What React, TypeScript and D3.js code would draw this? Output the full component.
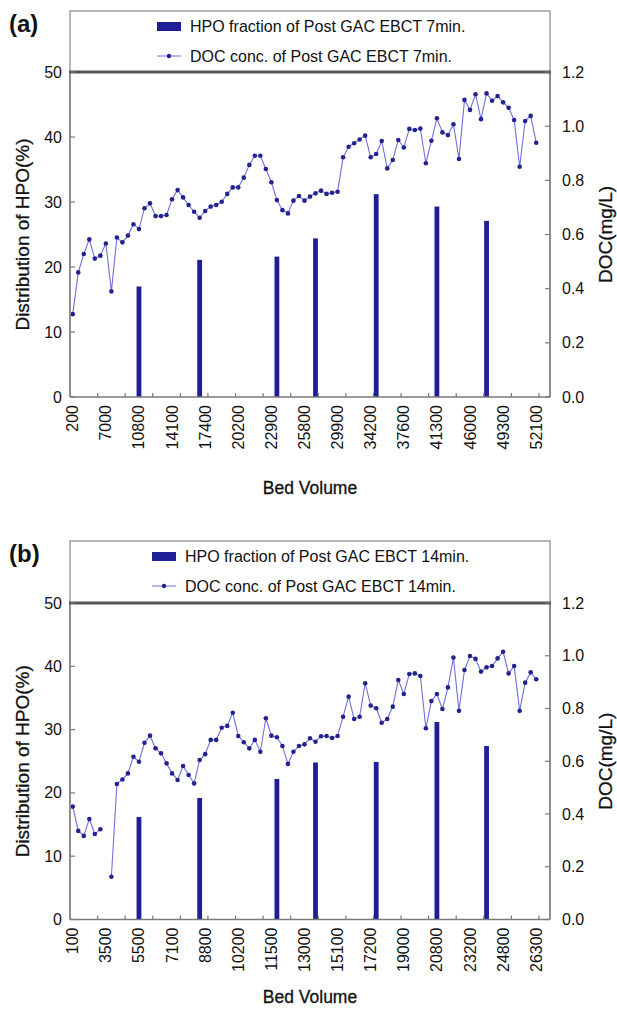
import * as d3 from "d3";

// bed-volume samples per panel (only every 6th one is labelled on the axis)
const CATEGORY_COUNT = 87;
const LABEL_EVERY = 6;
const TICK_EVERY = 5;

const tickLabelsA = ["200", "7000", "10800", "14100", "17400", "20200", "22900", "25800", "29900", "34200", "37600", "41300", "46000", "49300", "52100"];
const tickLabelsB = ["100", "3500", "5500", "7100", "8800", "10200", "11500", "13000", "15100", "17200", "19000", "20800", "23200", "24800", "26300"];

// category index of each HPO measurement
const hpoCategory = [12, 23, 37, 44, 55, 66, 75];
const hpoA = [17.0, 21.1, 21.6, 24.4, 31.2, 29.3, 27.1];
const hpoB = [16.2, 19.2, 22.2, 24.8, 24.9, 31.2, 27.4];

const docA: (number | null)[] = [
  0.306, 0.46, 0.528, 0.582, 0.511, 0.522, 0.567, 0.39, 0.589, 0.571,
  0.596, 0.638, 0.62, 0.697, 0.715, 0.668, 0.668, 0.672, 0.73, 0.764,
  0.737, 0.709, 0.684, 0.662, 0.687, 0.703, 0.709, 0.721, 0.75, 0.774,
  0.774, 0.81, 0.857, 0.891, 0.891, 0.842, 0.793, 0.727, 0.69, 0.678,
  0.725, 0.742, 0.725, 0.74, 0.752, 0.762, 0.75, 0.754, 0.758, 0.885,
  0.924, 0.937, 0.951, 0.965, 0.885, 0.897, 0.945, 0.844, 0.875, 0.949,
  0.921, 0.99, 0.986, 0.991, 0.863, 0.946, 1.029, 0.977, 0.967, 1.007,
  0.879, 1.097, 1.06, 1.118, 1.026, 1.121, 1.094, 1.111, 1.088, 1.068,
  1.023, 0.85, 1.019, 1.038, 0.939,
];

const docB: (number | null)[] = [
  0.428, 0.336, 0.317, 0.381, 0.324, 0.342, null, 0.162, 0.514, 0.531,
  0.554, 0.617, 0.598, 0.67, 0.697, 0.649, 0.63, 0.592, 0.554, 0.529,
  0.582, 0.548, 0.516, 0.605, 0.627, 0.681, 0.681, 0.727, 0.734, 0.784,
  0.696, 0.672, 0.649, 0.681, 0.636, 0.763, 0.697, 0.691, 0.658, 0.59,
  0.636, 0.658, 0.664, 0.687, 0.674, 0.695, 0.696, 0.688, 0.696, 0.769,
  0.845, 0.76, 0.769, 0.896, 0.811, 0.801, 0.746, 0.76, 0.807, 0.908,
  0.855, 0.931, 0.933, 0.923, 0.725, 0.828, 0.855, 0.798, 0.88, 0.993,
  0.791, 0.946, 0.999, 0.988, 0.94, 0.956, 0.961, 0.99, 1.015, 0.933,
  0.961, 0.791, 0.898, 0.937, 0.911,
];

const hpoTicks = [0, 10, 20, 30, 40, 50];
const docTicks = [0, 0.2, 0.4, 0.6, 0.8, 1.0, 1.2];

const FONT = "'Liberation Sans', Arial, Helvetica, sans-serif";
const BAR = "#1e1e96";
const LINE = "#7070dc";
const DOT = "#23238f";
const AXIS = "#7a7a7a";
const TEXT = "#111";

const PLOT_LEFT = 70;
const PLOT_RIGHT = 550;

interface PanelProps {
  letter: string;
  legendTop: number;
  plotTop: number;
  plotBottom: number;
  xTitleY: number;
  swatchX: number;
  hpoLabel: string;
  docLabel: string;
  tickLabels: string[];
  hpo: number[];
  doc: (number | null)[];
}

function Panel(p: PanelProps) {
  const x = d3
    .scaleBand<number>()
    .domain(d3.range(CATEGORY_COUNT))
    .range([PLOT_LEFT, PLOT_RIGHT]);
  const bw = x.bandwidth();
  const cx = (i: number) => (x(i) ?? 0) + bw / 2;
  const yL = d3.scaleLinear().domain([0, 50]).range([p.plotBottom, p.plotTop]);
  const yR = d3.scaleLinear().domain([0, 1.2]).range([p.plotBottom, p.plotTop]);

  const line = d3
    .line<number | null>()
    .defined((d) => d != null)
    .x((_, i) => cx(i))
    .y((d) => yR(d as number));

  const boundaries = d3.range(TICK_EVERY, CATEGORY_COUNT, TICK_EVERY);
  const midY = (p.plotTop + p.plotBottom) / 2;
  const row1 = p.legendTop + 15;
  const row2 = p.legendTop + 45;

  return (
    <g fontFamily={FONT} fill={TEXT}>
      <text x={9} y={p.legendTop + 21} fontSize={24} fontWeight="bold">
        {p.letter}
      </text>

      {/* legend box */}
      <rect
        x={PLOT_LEFT}
        y={p.legendTop}
        width={PLOT_RIGHT - PLOT_LEFT}
        height={p.plotTop - p.legendTop}
        fill="#fff"
        stroke="#888"
        strokeWidth={1.2}
      />
      <rect x={p.swatchX} y={row1 - 4} width={24} height={9} fill={BAR} />
      <text x={p.swatchX + 33} y={row1 + 5.5} fontSize={16}>
        {p.hpoLabel}
      </text>
      <line
        x1={p.swatchX}
        x2={p.swatchX + 24}
        y1={row2}
        y2={row2}
        stroke={LINE}
        strokeWidth={1}
      />
      <circle cx={p.swatchX + 12} cy={row2} r={2.2} fill={DOT} />
      <text x={p.swatchX + 33} y={row2 + 5.5} fontSize={16}>
        {p.docLabel}
      </text>

      {/* bars */}
      {p.hpo.map((v, k) => (
        <rect
          key={k}
          x={cx(hpoCategory[k]) - 2.4}
          y={yL(v)}
          width={4.8}
          height={yL(0) - yL(v)}
          fill={BAR}
        />
      ))}

      {/* DOC line */}
      <path d={line(p.doc) ?? ""} fill="none" stroke={LINE} strokeWidth={1.1} />
      {p.doc.map((v, i) =>
        v == null ? null : <circle key={i} cx={cx(i)} cy={yR(v)} r={2.3} fill={DOT} />
      )}

      {/* frame */}
      <line x1={PLOT_LEFT} x2={PLOT_LEFT} y1={p.plotTop} y2={p.plotBottom} stroke={AXIS} strokeWidth={1.7} />
      <line x1={PLOT_RIGHT} x2={PLOT_RIGHT} y1={p.plotTop} y2={p.plotBottom} stroke={AXIS} strokeWidth={1.7} />
      <line x1={PLOT_LEFT} x2={PLOT_RIGHT} y1={p.plotBottom} y2={p.plotBottom} stroke={AXIS} strokeWidth={1.7} />
      <line x1={PLOT_LEFT - 1} x2={PLOT_RIGHT + 1} y1={p.plotTop} y2={p.plotTop} stroke="#555" strokeWidth={2.8} />

      {/* left axis */}
      {hpoTicks.map((t) => (
        <g key={t}>
          <line x1={PLOT_LEFT} x2={PLOT_LEFT + 5} y1={yL(t)} y2={yL(t)} stroke={AXIS} strokeWidth={1.2} />
          <text x={PLOT_LEFT - 8} y={yL(t) + 5.5} fontSize={16} textAnchor="end">
            {t}
          </text>
        </g>
      ))}
      {/* right axis */}
      {docTicks.map((t) => (
        <g key={t}>
          <line x1={PLOT_RIGHT - 5} x2={PLOT_RIGHT} y1={yR(t)} y2={yR(t)} stroke={AXIS} strokeWidth={1.2} />
          <text x={PLOT_RIGHT + 12} y={yR(t) + 5.5} fontSize={16}>
            {d3.format(".1f")(t)}
          </text>
        </g>
      ))}
      {/* bottom axis */}
      {boundaries.map((b) => (
        <line key={b} x1={x(b)} x2={x(b)} y1={p.plotBottom} y2={p.plotBottom - 4} stroke={AXIS} strokeWidth={1.2} />
      ))}
      {p.tickLabels.map((l, j) => {
        const tx = cx(j * LABEL_EVERY) + 5.5;
        const ty = p.plotBottom + 8;
        return (
          <text key={l} transform={`translate(${tx},${ty}) rotate(-90)`} fontSize={16} textAnchor="end">
            {l}
          </text>
        );
      })}

      {/* titles */}
      <text x={(PLOT_LEFT + PLOT_RIGHT) / 2} y={p.xTitleY} fontSize={17.5} textAnchor="middle" stroke={TEXT} strokeWidth={0.3}>
        Bed Volume
      </text>
      <text transform={`translate(29,${midY}) rotate(-90)`} fontSize={19} textAnchor="middle" stroke={TEXT} strokeWidth={0.3}>
        Distribution of HPO(%)
      </text>
      <text transform={`translate(612,${midY}) rotate(-90)`} fontSize={19} textAnchor="middle" stroke={TEXT} strokeWidth={0.3}>
        DOC(mg/L)
      </text>
    </g>
  );
}

export default function App() {
  return (
    <div style={{ position: "absolute", left: 0, top: 0 }}>
      <svg width={617} height={1009} style={{ display: "block", background: "#fff" }}>
        <Panel
          letter="(a)"
          legendTop={11}
          plotTop={72}
          plotBottom={397}
          xTitleY={494}
          swatchX={157}
          hpoLabel="HPO fraction of Post GAC EBCT 7min."
          docLabel="DOC conc. of Post GAC EBCT 7min."
          tickLabels={tickLabelsA}
          hpo={hpoA}
          doc={docA}
        />
        <Panel
          letter="(b)"
          legendTop={541}
          plotTop={603}
          plotBottom={919.5}
          xTitleY={1003}
          swatchX={152}
          hpoLabel="HPO fraction of Post GAC EBCT 14min."
          docLabel="DOC conc. of Post GAC EBCT 14min."
          tickLabels={tickLabelsB}
          hpo={hpoB}
          doc={docB}
        />
      </svg>
    </div>
  );
}
